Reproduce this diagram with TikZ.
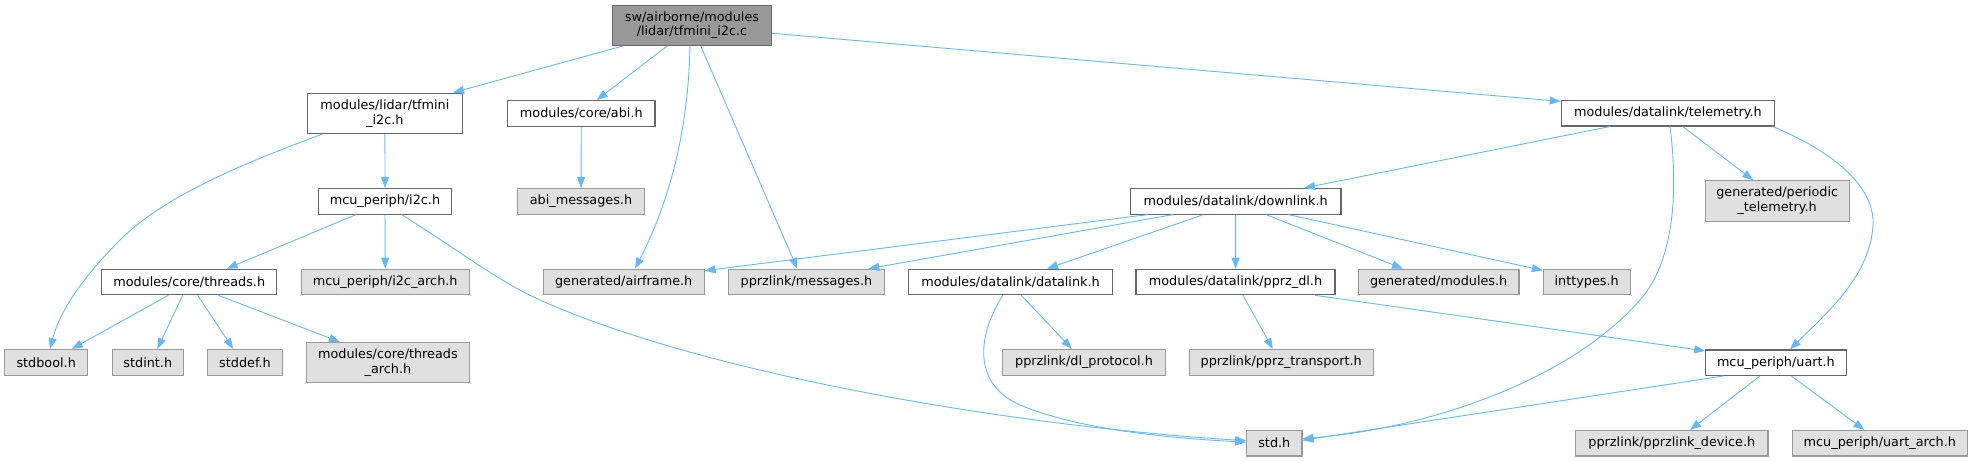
\documentclass[tikz,border=0pt]{standalone}
\usepackage{fontspec}
\setmainfont{DejaVu Sans}
\usetikzlibrary{arrows.meta}
\definecolor{edgec}{HTML}{63B8FF}
\definecolor{bdark}{HTML}{666666}
\definecolor{blight}{HTML}{999999}
\definecolor{gfill}{HTML}{E0E0E0}
\definecolor{rfill}{HTML}{999999}
\tikzset{
  nd/.style={draw=bdark, fill=white, line width=1.1pt, inner sep=0pt, align=center,
    font=\fontsize{12.8}{14.7}\selectfont, minimum height=25.5pt},
  gnd/.style={nd, draw=blight, fill=gfill},
  rnd/.style={nd, fill=rfill},
  two/.style={minimum height=40.3pt},
  mw/.style={minimum width=#1pt},
  dep/.style={draw=edgec, line width=0.9pt, -{Triangle[length=11pt,width=8pt]}}
}
\begin{document}
\begin{tikzpicture}[x=1pt,y=-1pt]
\useasboundingbox (0,0) rectangle (1973,461);
% row 0
\node[rnd, two, mw=159.4] (root) at (692,25.2) {sw/airborne/modules\\/lidar/tfmini\_i2c.c};
% row 1
\node[nd, two, mw=155.2] (tfmini) at (384.9,113.3) {modules/lidar/tfmini\\\_i2c.h};
\node[nd, mw=147.4] (abi) at (581.3,113.3) {modules/core/abi.h};
\node[nd, mw=213.2] (telemetry) at (1667.9,113.2) {modules/datalink/telemetry.h};
% row 2
\node[nd, mw=133.5] (i2c) at (385,201.3) {mcu\_periph/i2c.h};
\node[gnd, mw=127.2] (abimsg) at (581,201.3) {abi\_messages.h};
\node[nd, mw=210.6] (downlink) at (1235.7,201.3) {modules/datalink/downlink.h};
\node[gnd, two, mw=144.3] (periodic) at (1777.2,200.9) {generated/periodic\\\_telemetry.h};
% row 3
\node[nd, mw=175] (threads) at (189.2,282) {modules/core/threads.h};
\node[gnd, mw=168.3] (i2carch) at (385.2,282) {mcu\_periph/i2c\_arch.h};
\node[gnd, mw=160.7] (airframe) at (623.7,282) {generated/airframe.h};
\node[gnd, mw=156.4] (messages) at (806.5,282) {pprzlink/messages.h};
\node[nd, mw=204.4] (datalink) at (1010.5,282) {modules/datalink/datalink.h};
\node[nd, mw=199] (pprzdl) at (1235.5,282) {modules/datalink/pprz\_dl.h};
\node[gnd, mw=160.6] (modules) at (1438.7,282) {generated/modules.h};
\node[gnd, mw=86.7] (inttypes) at (1586.7,282) {inttypes.h};
% row 4
\node[gnd, mw=83] (stdbool) at (46.2,362.3) {stdbool.h};
\node[gnd, mw=71] (stdint) at (147.8,362.3) {stdint.h};
\node[gnd, mw=75.4] (stddef) at (245,362.3) {stddef.h};
\node[gnd, two, mw=162.8] (tharch) at (387.9,362.7) {modules/core/threads\\\_arch.h};
\node[gnd, mw=163] (dlproto) at (1084,362.3) {pprzlink/dl\_protocol.h};
\node[gnd, mw=184.3] (pprztr) at (1281.2,362.3) {pprzlink/pprz\_transport.h};
\node[nd, mw=140.3] (uart) at (1775.9,362.7) {mcu\_periph/uart.h};
% row 5
\node[gnd, mw=55.3] (std) at (1274.3,443.2) {std.h};
\node[gnd, mw=192.3] (pdev) at (1671.8,443.2) {pprzlink/pprzlink\_device.h};
\node[gnd, mw=175] (uartarch) at (1879.8,443.2) {mcu\_periph/uart\_arch.h};

% edges from root
\draw[dep] ([xshift=-68.7pt]root.south) -- ([xshift=68.2pt]tfmini.north);
\draw[dep] ([xshift=-24.7pt]root.south) -- ([xshift=15.4pt]abi.north);
\draw[dep] ([xshift=-2pt]root.south) .. controls (688,150) and (660,220) .. ([xshift=11.3pt]airframe.north);
\draw[dep] ([xshift=8.7pt]root.south) -- ([xshift=-9.2pt]messages.north);
\draw[dep] ([yshift=-8.1pt]root.east) -- ([yshift=-1.5pt]telemetry.north west);
% tfmini
\draw[dep] ([xshift=-62.2pt]tfmini.south) .. controls (230,168) and (160,200) .. (120,240) .. controls (85,275) and (60,310) .. ([xshift=3.8pt]stdbool.north);
\draw[dep] (tfmini) -- (i2c);
% abi
\draw[dep] (abi) -- (abimsg);
% i2c
\draw[dep] ([xshift=-29pt]i2c.south) -- ([xshift=37.5pt]threads.north);
\draw[dep] (i2c) -- (i2carch);
\draw[dep] ([xshift=16.7pt]i2c.south) .. controls (470,258) and (500,282) .. (540,300) .. controls (700,372) and (1000,425) .. ([yshift=2.5pt]std.west);
% threads
\draw[dep] ([xshift=-20.9pt]threads.south) -- ([xshift=25.5pt]stdbool.north);
\draw[dep] ([xshift=-6.5pt]threads.south) -- ([xshift=9.5pt]stdint.north);
\draw[dep] ([xshift=8.5pt]threads.south) -- ([xshift=-11.7pt]stddef.north);
\draw[dep] ([xshift=29.1pt]threads.south) -- ([xshift=-47.9pt]tharch.north);
% telemetry
\draw[dep] ([xshift=-57.9pt]telemetry.south) -- ([xshift=68.3pt]downlink.north);
\draw[dep] ([xshift=2.1pt]telemetry.south) .. controls (1678,190) and (1675,260) .. (1640,300) .. controls (1570,380) and (1430,428) .. ([yshift=4.5pt]std.east);
\draw[dep] ([xshift=14.8pt]telemetry.south) -- ([xshift=-23.9pt]periodic.north);
\draw[dep] ([xshift=-2.6pt]telemetry.south east) .. controls (1830,150) and (1875,185) .. (1873,225) .. controls (1870,275) and (1830,310) .. ([xshift=14.1pt]uart.north);
% downlink
\draw[dep] ([xshift=-87.9pt]downlink.south) -- ([yshift=-2pt]airframe.north east);
\draw[dep] ([xshift=-62.7pt]downlink.south) -- ([xshift=61.8pt]messages.north);
\draw[dep] ([xshift=-32.1pt]downlink.south) -- ([xshift=36.5pt]datalink.north);
\draw[dep] (downlink) -- (pprzdl);
\draw[dep] ([xshift=30.3pt]downlink.south) -- ([xshift=-35.7pt]modules.north);
\draw[dep] ([xshift=52.7pt]downlink.south) -- ([yshift=-1.7pt]inttypes.north west);
% datalink
\draw[dep] ([xshift=10.9pt]datalink.south) -- ([xshift=-12.1pt]dlproto.north);
\draw[dep] ([xshift=-7.8pt]datalink.south) .. controls (975,340) and (975,385) .. (1020,405) .. controls (1080,430) and (1170,438) .. ([yshift=1pt]std.west);
% pprz_dl
\draw[dep] ([xshift=7.5pt]pprzdl.south) -- ([xshift=-8.4pt]pprztr.north);
\draw[dep] ([xshift=79.5pt]pprzdl.south) -- ([yshift=-1.5pt]uart.north west);
% uart
\draw[dep] ([xshift=-52.6pt]uart.south) -- ([yshift=3pt]std.east);
\draw[dep] ([xshift=-15.9pt]uart.south) -- ([xshift=18.2pt]pdev.north);
\draw[dep] ([xshift=15.5pt]uart.south) -- ([xshift=-15.4pt]uartarch.north);
\end{tikzpicture}
\end{document}
